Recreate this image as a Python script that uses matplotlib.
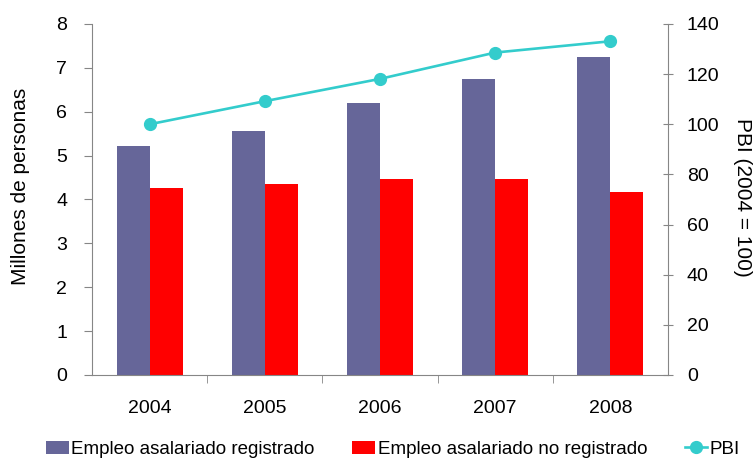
import numpy as np
import matplotlib.pyplot as plt

plt.rcParams['font.family'] = ['Liberation Sans', 'DejaVu Sans']

## Data
years = ['2004', '2005', '2006', '2007', '2008']
registrado = [5.22, 5.57, 6.20, 6.74, 7.24]      # millones de personas
no_registrado = [4.27, 4.35, 4.46, 4.46, 4.16]   # millones de personas
pbi = [100.0, 109.2, 118.1, 128.6, 133.1]        # indice 2004 = 100

c_reg = '#666699'
c_noreg = '#ff0000'
c_pbi = '#33cccc'
c_axis = '#868686'

fig = plt.figure(figsize=(7.56, 4.61), dpi=100)
ax = fig.add_axes([0.1217, 0.1866, 0.7619, 0.7614])
ax2 = ax.twinx()

x = np.arange(len(years))
w = 0.287
b1 = ax.bar(x - w/2, registrado, w, color=c_reg, label='Empleo asalariado registrado', zorder=2)
b2 = ax.bar(x + w/2, no_registrado, w, color=c_noreg, label='Empleo asalariado no registrado', zorder=2)
l1, = ax2.plot(x, pbi, color=c_pbi, lw=1.9, marker='o', ms=8.5, label='PBI')

ax.set_xlim(-0.5, len(years) - 0.5)
ax.set_ylim(0, 8)
ax2.set_ylim(0, 140)
ax.set_yticks(range(0, 9))
ax2.set_yticks(range(0, 141, 20))

ax.set_xticks(x)
ax.set_xticklabels(years)
ax.set_xticks(np.arange(0.5, len(years) - 0.5, 1), minor=True)
ax.tick_params(axis='x', which='major', length=0, pad=18, labelsize=14)
ax.tick_params(axis='x', which='minor', length=6, direction='out', color=c_axis)
ax.tick_params(axis='y', length=6, direction='out', color=c_axis, labelsize=14, pad=12)
ax2.tick_params(axis='y', length=7, direction='inout', color=c_axis, labelsize=14, pad=10)

for a in (ax, ax2):
    a.spines['top'].set_visible(False)
    for s in ('left', 'right', 'bottom'):
        a.spines[s].set_color(c_axis)
ax.spines['right'].set_visible(False)
ax2.spines['left'].set_visible(False)
ax2.spines['bottom'].set_visible(False)

ax.set_ylabel('Millones de personas', fontsize=15, va='center')
ax.yaxis.set_label_coords(-0.125, 0.536)
ax2.set_ylabel('PBI (2004 = 100)', fontsize=15, rotation=270, va='center')
ax2.yaxis.set_label_coords(1.13, 0.507)

fig.legend([b1, b2, l1], [b1.get_label(), b2.get_label(), l1.get_label()],
           loc='lower center', bbox_to_anchor=(0.52, -0.03), ncol=3, frameon=False,
           fontsize=13.5, handlelength=1.2, handletextpad=0.15, columnspacing=2.0)

plt.savefig('out.png', dpi=100)
plt.close('all')
